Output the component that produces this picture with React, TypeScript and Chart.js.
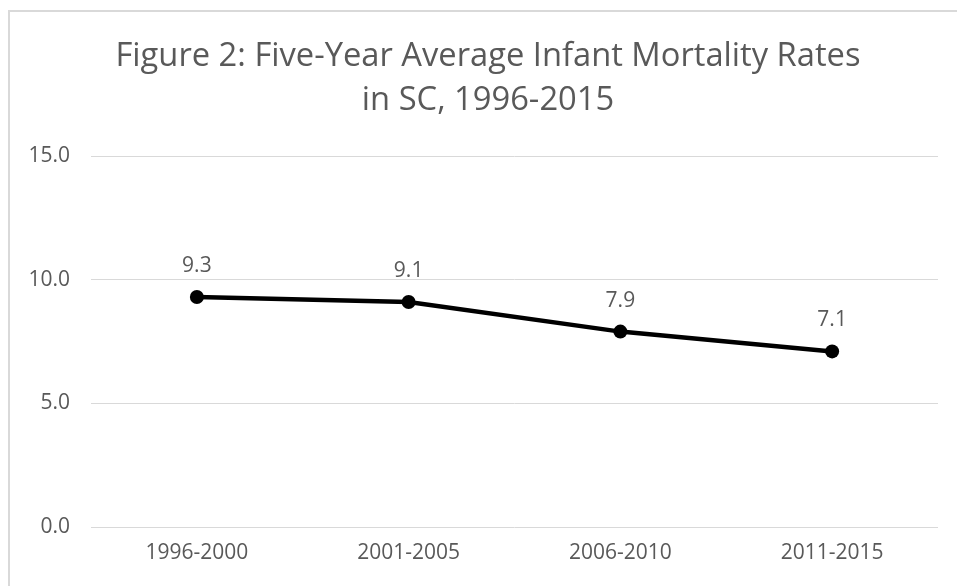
import React, { useEffect, useRef } from "react";
import { Chart, registerables } from "chart.js";

Chart.register(...registerables);

const titleLines = ["Figure 2: Five-Year Average Infant Mortality Rates", "in SC, 1996-2015"];
const categories = ["1996-2000", "2001-2005", "2006-2010", "2011-2015"];
const rates = [9.3, 9.1, 7.9, 7.1];
const yMin = 0;
const yMax = 15;
const yStep = 5;

const FONT = "'Open Sans', 'Noto Sans', sans-serif";
const TEXT = "#595959";
const GRID = "#d9d9d9";

const titlePlugin = {
  id: "centeredTitle",
  afterDraw(chart: any) {
    const ctx = chart.ctx;
    ctx.save();
    ctx.font = `32.7px ${FONT}`;
    ctx.fillStyle = TEXT;
    ctx.textAlign = "center";
    ctx.textBaseline = "middle";
    const cx = chart.width / 2;
    titleLines.forEach((line, i) => {
      ctx.fillText(line, cx, 45 + i * 44);
    });
    ctx.restore();
  },
};

const valueLabels = {
  id: "valueLabels",
  afterDatasetsDraw(chart: any) {
    const ctx = chart.ctx;
    const meta = chart.getDatasetMeta(0);
    ctx.save();
    ctx.font = `21px ${FONT}`;
    ctx.fillStyle = TEXT;
    ctx.textAlign = "center";
    ctx.textBaseline = "middle";
    meta.data.forEach((pt: any, i: number) => {
      ctx.fillText(rates[i].toFixed(1), pt.x, pt.y - 31);
    });
    ctx.restore();
  },
};

export default function App() {
  const ref = useRef<HTMLCanvasElement>(null);
  useEffect(() => {
    if (!ref.current) return;
    const chart = new Chart(ref.current, {
      type: "line",
      data: {
        labels: categories,
        datasets: [
          {
            data: rates,
            borderColor: "#000000",
            backgroundColor: "#000000",
            borderWidth: 4.5,
            pointRadius: 7,
            pointBackgroundColor: "#000000",
            pointBorderColor: "#000000",
            pointBorderWidth: 0,
            tension: 0,
          },
        ],
      },
      options: {
        responsive: false,
        animation: false,
        devicePixelRatio: 1,
        layout: { padding: { left: 0, right: 28, top: 144, bottom: 0 } },
        plugins: {
          legend: { display: false },
          tooltip: { enabled: false },
          title: { display: false },
        },
        scales: {
          x: {
            offset: true,
            grid: { display: false, drawTicks: false },
            border: { display: false },
            ticks: { color: TEXT, font: { family: FONT, size: 21 }, padding: 13, maxRotation: 0 },
            afterFit: (s: any) => {
              s.height = 59;
            },
          },
          y: {
            min: yMin,
            max: yMax,
            grid: { color: GRID, lineWidth: 1, drawTicks: false },
            border: { display: false },
            ticks: {
              stepSize: yStep,
              color: TEXT,
              font: { family: FONT, size: 21 },
              padding: 21,
              callback: (v: any) => Number(v).toFixed(1),
            },
            afterFit: (s: any) => {
              s.width = 81;
            },
          },
        },
      },
      plugins: [valueLabels, titlePlugin],
    });
    return () => chart.destroy();
  }, []);

  return (
    <div
      style={{
        position: "fixed",
        left: 0,
        top: 0,
        width: 957,
        height: 586,
        overflow: "hidden",
        background: "#ffffff",
      }}
    >
      <div
        style={{
          position: "absolute",
          left: 8,
          top: 10,
          width: 970,
          height: 600,
          borderTop: `2px solid ${GRID}`,
          borderLeft: `2px solid ${GRID}`,
          background: "#ffffff",
        }}
      >
        <canvas ref={ref} width={956} height={574} style={{ display: "block" }} />
      </div>
    </div>
  );
}
